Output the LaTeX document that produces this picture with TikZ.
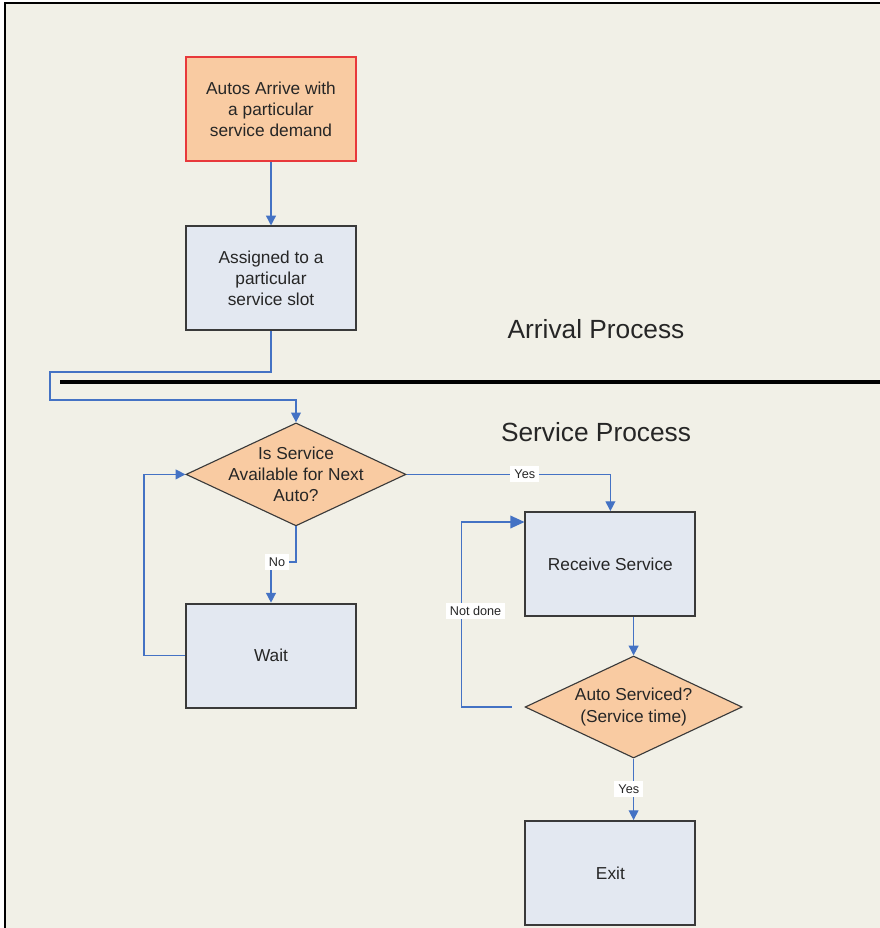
\documentclass[tikz,border=0pt]{standalone}
\usepackage{fontspec}
\setmainfont{Liberation Sans}
\usepackage{tikz}
\usetikzlibrary{shapes,arrows.meta,positioning,calc,shapes.geometric}
\usepackage{xcolor}

\definecolor{bgbeige}{HTML}{F1F0E7}
\definecolor{peach}{HTML}{F9CBA2}
\definecolor{boxred}{HTML}{E8393B}
\definecolor{paleblue}{HTML}{E3E8F1}
\definecolor{linkblue}{HTML}{4472C4}
\definecolor{edgegrey}{HTML}{3A3A3A}
\definecolor{inkgrey}{HTML}{262626}

\begin{document}
\begin{tikzpicture}[
    process/.style={rectangle, draw=edgegrey, line width=1.3pt, fill=paleblue, minimum width=4.25cm, minimum height=2.6cm, align=center, font=\fontsize{12.3}{15}\selectfont, text=inkgrey},
    start/.style={process, draw=boxred, line width=0.8pt, fill=peach},
    decision/.style={diamond, draw=edgegrey, line width=0.8pt, fill=peach, shape aspect=2.14, minimum width=5.5cm, minimum height=2.575cm, inner xsep=-0.2cm, inner ysep=-0.4cm, align=center, font=\fontsize{12.3}{15}\selectfont, text=inkgrey},
    heading/.style={font=\fontsize{18.7}{22}\selectfont, text=inkgrey},
    lbl/.style={fill=white, inner xsep=3pt, inner ysep=2.5pt, font=\fontsize{9}{10}\selectfont, text=inkgrey},
    arrow/.style={-{Triangle[width=7pt,length=7pt]}, draw=linkblue, line width=1pt},
    bigarrow/.style={arrow, -{Triangle[width=9pt,length=10pt]}}
]

% page and frame
\useasboundingbox (0,0) rectangle (22,-23.2);
\fill[bgbeige] (0.125,-0.075) rectangle (22,-23.2);
\draw[line width=1.5pt] (0.125,-23.2) -- (0.125,-0.075) -- (22,-0.075);

% arrival process
\node[start] (arrive) at (6.775,-2.725) {Autos Arrive with\\ a particular\\service demand};
\node[process] (slot) at (6.775,-6.96) {Assigned to a\\particular\\service slot};
\node[heading] (arrival) at (14.9,-8.225) {Arrival Process};

\draw[line width=2.8pt] (1.5,-9.55) -- (22,-9.55);

% service process
\node[heading] (service) at (14.9,-10.8) {Service Process};
\node[decision] (avail) at (7.4,-11.86) {Is Service\\Available for Next\\Auto?};
\node[process] (wait) at (6.775,-16.39) {Wait};
\node[process] (receive) at (15.26,-14.1) {Receive Service};
\node[decision, minimum width=5.425cm, minimum height=2.55cm] (done) at (15.84,-17.675) {Auto Serviced?\\(Service time)};
\node[process] (exit) at (15.26,-21.825) {Exit};

\coordinate (bendA) at (1.25,-9.3);
\coordinate (bendB) at (1.25,-10);
\coordinate (bendNo) at (6.775,-14.05);

\draw[arrow] (arrive) -- (slot);
\draw[arrow] (slot.south) |- (bendA) -- (bendB) -| (avail.north);
\draw[arrow] (avail.east) -| node[lbl, pos=0.29] {Yes} (receive.north);
\draw[arrow] (avail.south) |- (bendNo) node[lbl, xshift=0.15cm] {No} -- (wait.north);
\draw[arrow] (wait.west) -- ++(-1.025,0) |- (avail.west);
\draw[arrow] (receive.south -| done.north) -- (done.north);
\draw[bigarrow] ([xshift=-0.325cm]done.west) -- ++(-1.25,0) |- node[lbl, pos=0.26, xshift=0.35cm] {Not done} ([yshift=1.05cm]receive.west);
\draw[arrow] (done.south) -- node[lbl, xshift=-0.12cm] {Yes} (done.south |- exit.north);

\end{tikzpicture}
\end{document}
